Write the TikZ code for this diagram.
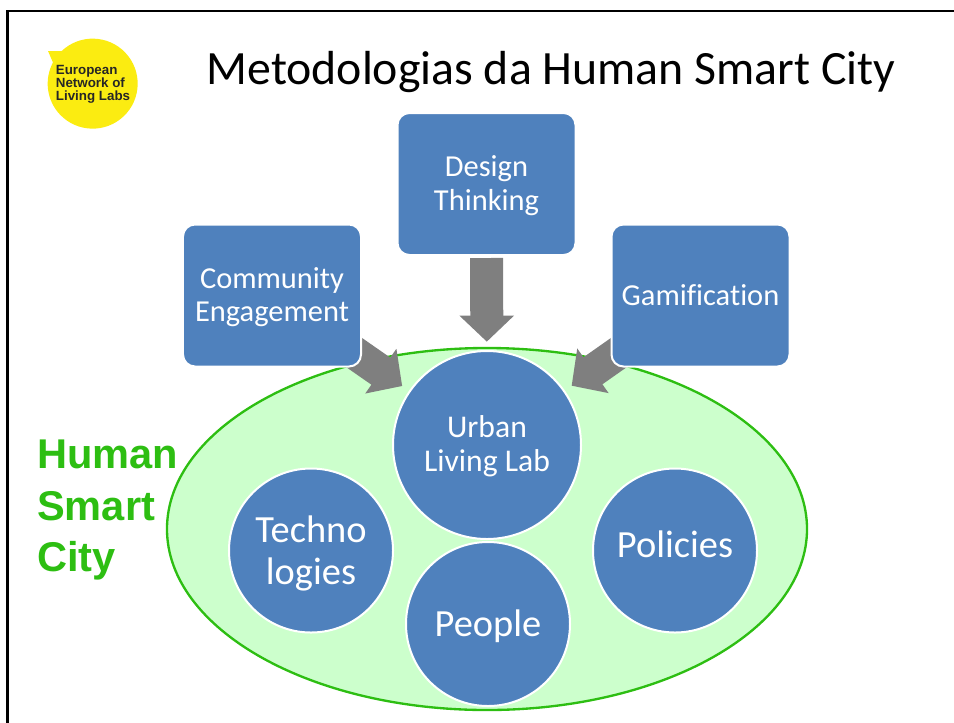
\documentclass[tikz,border=0pt]{standalone}
\usepackage{fontspec}
\setmainfont[Ligatures=NoCommon]{Carlito}
\newfontfamily\logofont{Liberation Sans}
\usetikzlibrary{arrows.meta,backgrounds,shapes.geometric}
\definecolor{boxblue}{HTML}{4F81BD}
\definecolor{cityfill}{HTML}{CCFFCC}
\definecolor{cityline}{HTML}{2DBE12}
\definecolor{logoyellow}{HTML}{FBEC11}
\definecolor{framegrey}{HTML}{7F7F7F}
\begin{document}
\begin{tikzpicture}[x=0.03cm,y=-0.03cm]
  \tikzstyle{method}=[rectangle,rounded corners=0.36cm,fill=boxblue,draw=white,line width=0.06cm,
    text=white,align=center,font=\fontsize{26}{28.5}\selectfont]
  \tikzstyle{topic}=[circle,fill=boxblue,draw=white,line width=0.06cm,inner sep=0pt,
    text=white,align=center,font=\fontsize{32.8}{35.7}\selectfont]
  \tikzstyle{blockarrow}=[draw=framegrey,line width=0.99cm,-{Triangle[length=0.78cm,width=1.59cm,fill=framegrey]}]
  \useasboundingbox (0,0) rectangle (954,722);
  % slide frame
  \draw[line width=0.08cm] (7.5,730) -- (7.5,11) -- (960,11);
  % logo
  \fill[logoyellow] (48,51) -- (61.7,51) arc[start angle=133.5,end angle=-208,radius=1.35cm] -- cycle;
  \node[text=black!85,align=left,inner sep=0pt,font=\logofont\bfseries\fontsize{11.4}{11}\selectfont] (logo) at (93,84) {European\\Network of\\Living Labs};
  \node[inner sep=0pt,font=\fontsize{40.8}{46}\selectfont] (title) at (551,72) {Metodologias da Human Smart City};
  \node[inner sep=0pt,anchor=west,align=left,text=cityline,font=\logofont\bfseries\fontsize{35.5}{43.8}\selectfont] (city) at (37,510) {Human\\Smart\\City};
  % boxes
  \node[method,minimum width=5.34cm,minimum height=4.26cm,text height=1.72cm] (G_com) at (272,295.5) {Community\\Engagement};
  \node[method,minimum width=5.34cm,minimum height=4.26cm,text height=1.72cm] (G_des) at (486.5,184) {Design\\Thinking};
  \node[method,minimum width=5.34cm,minimum height=4.26cm] (G_gam) at (700.5,295.5) {Gamification};
  % circles
  \node[topic,minimum size=5.64cm,font=\fontsize{27}{29}\selectfont,text height=1.77cm] (G_url) at (487,445) {Urban\\Living Lab};
  \node[topic,minimum size=4.92cm,text height=2.22cm] (G_tec) at (311,550.5) {Techno\\logies};
  \node[topic,minimum size=4.92cm,text height=0.96cm] (G_peo) at (488,624) {People};
  \node[topic,minimum size=4.92cm,text depth=0.38cm] (G_pol) at (675,550.5) {Policies};
  \begin{scope}[on background layer]
    \node[ellipse,draw=cityline,fill=cityfill,line width=0.07cm,minimum width=19.2cm,minimum height=10.86cm] (G_hum) at (487,529) {};
    \draw[blockarrow,shorten <=0.06cm,shorten >=0.25cm] (G_des) -- (G_url);
    \draw[blockarrow,shorten <=-1cm,shorten >=0.25cm] (G_com) -- (G_url);
    \draw[blockarrow,shorten <=-1cm,shorten >=0.25cm] (G_gam) -- (G_url);
  \end{scope}
\end{tikzpicture}
\end{document}
